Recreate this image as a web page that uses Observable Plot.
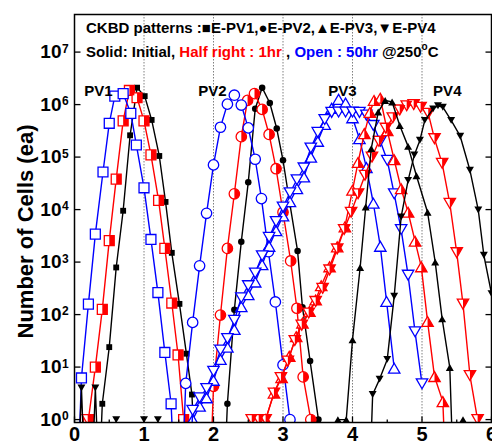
<!DOCTYPE html>
<html>
<head>
<meta charset="utf-8">
<script src="https://cdn.jsdelivr.net/npm/d3@7"></script>
<script src="https://cdn.jsdelivr.net/npm/@observablehq/plot@0.6"></script>
<style>
  html, body { margin: 0; padding: 0; background: #fff; }
  #chart svg { display: block; }
</style>
</head>
<body>
<div id="chart"></div>
<script>
// ---------- ticks ----------
const xTickValues = [0, 1, 2, 3, 4, 5, 6];
const xMinorTickValues = [0.5, 1.5, 2.5, 3.5, 4.5, 5.5];
const xGridValues = [1, 2, 3, 4, 5];
const yTickValues = [1, 10, 100, 1000, 1e4, 1e5, 1e6, 1e7];
const yTickExponents = ["0", "1", "2", "3", "4", "5", "6", "7"];

// ---------- data (count 0 = empty bin) ----------
// PV1 (squares)
const pv1InitialX = [0.3, 0.4, 0.5, 0.6, 0.7, 0.8, 0.9, 1.01, 1.11, 1.22, 1.31, 1.4, 1.51, 1.61, 1.69, 1.8];
const pv1InitialN = [0, 2, 24, 790, 9500, 2.6e5, 2.1e6, 1.45e6, 5.1e5, 1.05e5, 1.4e4, 1500, 160, 18, 3, 0];
const pv1HalfX = [0.2, 0.3, 0.4, 0.5, 0.6, 0.7, 0.79, 0.9, 1.0, 1.1, 1.21, 1.3, 1.4, 1.49, 1.57, 1.65];
const pv1HalfN = [1, 10, 126, 2570, 3.8e4, 4.9e5, 1.86e6, 1.35e6, 4.9e5, 1.1e5, 1.5e4, 1820, 166, 17, 1, 0];
const pv1OpenX = [0.0, 0.1, 0.2, 0.3, 0.41, 0.5, 0.58, 0.7, 0.81, 0.89, 1.0, 1.1, 1.2, 1.3, 1.39, 1.5];
const pv1OpenN = [0, 6.2, 158, 3400, 5.2e4, 4.4e5, 1.45e6, 1.62e6, 6.8e5, 1.7e5, 2.6e4, 2700, 263, 19, 2, 0];

// PV2 (circles)
const pv2InitialX = [2.1, 2.2, 2.3, 2.4, 2.5, 2.6, 2.7, 2.81, 2.91, 3.0, 3.1, 3.21, 3.28, 3.39, 3.51, 3.6];
const pv2InitialN = [0, 2, 123, 2450, 3.3e4, 8.3e5, 2.1e6, 1.07e6, 3.5e5, 8.7e4, 1.26e4, 1620, 138, 13, 1, 0];
const pv2HalfX = [1.9, 2.0, 2.1, 2.2, 2.3, 2.4, 2.49, 2.59, 2.7, 2.8, 2.9, 3.0, 3.11, 3.2, 3.29, 3.4, 3.5];
const pv2HalfN = [0, 4.3, 98, 1820, 2.0e4, 2.45e5, 1.2e6, 1.62e6, 8.1e5, 2.7e5, 6.0e4, 8900, 1050, 132, 6.5, 1, 0];
const pv2OpenX = [1.5, 1.6, 1.7, 1.8, 1.9, 2.0, 2.1, 2.2, 2.3, 2.4, 2.5, 2.6, 2.69, 2.79, 2.89, 3.0, 3.1, 3.2];
const pv2OpenN = [0, 4.9, 71, 850, 8500, 7.1e4, 3.7e5, 1.02e6, 1.51e6, 9.8e5, 3.6e5, 9.1e4, 1.62e4, 1580, 174, 11, 1, 0];

// PV3 (triangles up)
const pv3InitialX = [3.7, 3.79, 3.91, 4.0, 4.11, 4.19, 4.27, 4.37, 4.47, 4.57, 4.68, 4.8, 4.92, 5.08, 5.19, 5.29, 5.4, 5.5, 5.59, 5.7];
const pv3InitialN = [0, 1, 1, 33, 790, 1.12e4, 1.45e5, 7.2e5, 1.2e6, 1.12e6, 4.0e5, 1.6e5, 4.4e4, 8900, 1000, 83, 9.8, 0, 1, 0];
const pv3HalfX = [2.65, 2.75, 2.87, 2.98, 3.09, 3.19, 3.28, 3.38, 3.47, 3.55, 3.67, 3.78, 3.89, 4.0, 4.08, 4.17, 4.25, 4.31, 4.4, 4.5, 4.6, 4.7, 4.8, 4.9, 4.99, 5.08, 5.18, 5.3, 5.4];
const pv3HalfN = [0, 1, 3.2, 6.3, 16, 38, 69, 115, 190, 355, 813, 1950, 4680, 2.34e4, 7.9e4, 2.8e5, 7.1e5, 1.2e6, 1.32e6, 3.2e5, 8.9e4, 2.5e4, 8900, 2500, 813, 74, 6.6, 2.2, 0];
const pv3OpenX = [1.6, 1.7, 1.8, 1.9, 2.0, 2.1, 2.2, 2.3, 2.4, 2.5, 2.6, 2.7, 2.8, 2.9, 3.0, 3.1, 3.2, 3.3, 3.4, 3.5, 3.6, 3.7, 3.8, 3.9, 4.0, 4.1, 4.2, 4.3, 4.4, 4.49, 4.6];
const pv3OpenN = [0, 1, 1.8, 2.6, 5.6, 14, 24, 52, 141, 240, 417, 891, 2000, 3980, 7590, 1.41e4, 2.5e4, 4.2e4, 1.0e5, 2.0e5, 4.2e5, 8.5e5, 1.26e6, 1.07e6, 5.6e5, 2.24e5, 6.3e4, 1.32e4, 2000, 178, 9.5];

// PV4 (triangles down)
const pv4InitialX = [0.0, 0.1, 0.2, 0.3, 0.4, 0.5, 0.6, 0.7, 0.9, 1.0, 1.1, 1.2, 1.3, 4.2, 4.29, 4.39, 4.5, 4.6, 4.7, 4.8, 4.89, 4.97, 5.04, 5.16, 5.23, 5.3, 5.42, 5.55, 5.69, 5.81, 5.89, 6.0];
const pv4InitialN = [0, 4, 0, 4, 0, 0, 1, 0, 0, 1, 0, 1, 0, 0, 3, 5.9, 14, 224, 7240, 3.6e4, 1.1e5, 2.1e5, 5.0e5, 8.3e5, 9.5e5, 8.9e5, 5.0e5, 2.5e5, 5.6e4, 9800, 1350, 250];
const pv4HalfX = [0.1, 0.19, 0.3, 2.45, 2.55, 2.65, 2.75, 2.87, 2.97, 3.07, 3.17, 3.27, 3.37, 3.47, 3.57, 3.67, 3.78, 3.88, 3.98, 4.08, 4.18, 4.28, 4.38, 4.48, 4.58, 4.68, 4.78, 4.88, 4.98, 5.09, 5.18, 5.29, 5.4, 5.5, 5.59, 5.69, 5.8, 5.9];
const pv4HalfN = [0, 1, 0, 0, 1, 1, 1, 3.2, 6.3, 13, 32, 63, 107, 178, 316, 708, 1780, 4170, 8900, 2.0e4, 4.5e4, 1.0e5, 2.0e5, 3.55e5, 5.6e5, 7.9e5, 9.5e5, 1.0e6, 8.9e5, 6.8e5, 2.24e5, 7.6e4, 1.32e4, 1510, 158, 6.9, 1, 0];
const pv4OpenX = [1.6, 1.7, 1.8, 1.9, 2.0, 2.1, 2.2, 2.3, 2.4, 2.5, 2.6, 2.7, 2.8, 2.9, 3.0, 3.1, 3.2, 3.3, 3.4, 3.5, 3.6, 3.7, 3.8, 3.9, 4.0, 4.1, 4.2, 4.3, 4.4, 4.5, 4.6, 4.7, 4.8, 4.9, 5.0];
const pv4OpenN = [0, 1.5, 2.6, 3.9, 8.3, 21, 35, 78, 209, 355, 617, 1320, 2950, 5900, 1.12e4, 2.09e4, 3.7e4, 6.2e4, 1.48e5, 2.95e5, 5.2e5, 7.1e5, 7.2e5, 7.2e5, 7.2e5, 7.1e5, 6.3e5, 4.0e5, 2.0e5, 8.7e4, 2.0e4, 4170, 562, 47, 4.8];

// annotations
const pvLabelText = ["PV1", "PV2", "PV3", "PV4"];
const pvLabelX = [0.14, 1.78, 3.65, 5.16];
const pvLabelY = [1.8e6, 1.8e6, 1.8e6, 1.8e6];
const headerLine1 = "CKBD patterns :\u25A0E-PV1,\u25CFE-PV2,\u25B2E-PV3,\u25BCE-PV4";
const headerLine2 = [
  {text: "Solid: Initial, ", cond: "initial"},
  {text: "Half right : 1hr", cond: "half"},
  {text: " , ", cond: "initial"},
  {text: "Open : 50hr", cond: "open"},
  {text: " @250", cond: "initial"}
];
const yLabel = "Number of Cells (ea)";

// ---------- styling ----------
const FONT = "'Liberation Sans', Arial, Helvetica, sans-serif";
const COLOR = {initial: "#000000", half: "#ff0000", open: "#0000ff"};
const EMPTY = 1e-3; // empty bins drop off the log axis

function sq(half) {
  return {draw(ctx, size) {
    const k = Math.sqrt(size) / 2, l = half ? 0 : -k;
    ctx.moveTo(l, -k); ctx.lineTo(k, -k); ctx.lineTo(k, k); ctx.lineTo(l, k); ctx.closePath();
  }};
}
function circ(half) {
  return {draw(ctx, size) {
    const r = Math.sqrt(size) / 2 * 1.05;
    if (half) { ctx.moveTo(0, -r); ctx.arc(0, 0, r, -Math.PI / 2, Math.PI / 2); ctx.closePath(); }
    else { ctx.moveTo(r, 0); ctx.arc(0, 0, r, 0, 2 * Math.PI); ctx.closePath(); }
  }};
}
function tri(up, half) {
  return {draw(ctx, size) {
    const k = Math.sqrt(size) / 2, s = up ? 1 : -1, w = 1.15 * k;
    ctx.moveTo(0, -k * s); ctx.lineTo(w, k * s); ctx.lineTo(half ? 0 : -w, k * s); ctx.closePath();
  }};
}
const SHAPE = {PV1: sq(false), PV2: circ(false), PV3: tri(true, false), PV4: tri(false, false)};
const HALF = {PV1: sq(true), PV2: circ(true), PV3: tri(true, true), PV4: tri(false, true)};
const SOLID_R = {PV1: 3.3, PV2: 3.5, PV3: 3.9, PV4: 3.9};
const OPEN_R = 5.6;

const series = [
  {pattern: "PV1", cond: "initial", x: pv1InitialX, n: pv1InitialN},
  {pattern: "PV1", cond: "half", x: pv1HalfX, n: pv1HalfN},
  {pattern: "PV1", cond: "open", x: pv1OpenX, n: pv1OpenN},
  {pattern: "PV2", cond: "initial", x: pv2InitialX, n: pv2InitialN},
  {pattern: "PV2", cond: "half", x: pv2HalfX, n: pv2HalfN},
  {pattern: "PV2", cond: "open", x: pv2OpenX, n: pv2OpenN},
  {pattern: "PV3", cond: "open", x: pv3OpenX, n: pv3OpenN},
  {pattern: "PV4", cond: "open", x: pv4OpenX, n: pv4OpenN},
  {pattern: "PV3", cond: "half", x: pv3HalfX, n: pv3HalfN},
  {pattern: "PV4", cond: "half", x: pv4HalfX, n: pv4HalfN},
  {pattern: "PV3", cond: "initial", x: pv3InitialX, n: pv3InitialN},
  {pattern: "PV4", cond: "initial", x: pv4InitialX, n: pv4InitialN}
];

function seriesMarks(s) {
  const rows = s.x.map((x, i) => ({x, n: s.n[i], y: s.n[i] > 0 ? s.n[i] : EMPTY}));
  const shown = rows.filter(r => r.n > 0);
  const color = COLOR[s.cond];
  const marks = [Plot.line(rows, {x: "x", y: "y", stroke: color, strokeWidth: 1.4, clip: true})];
  if (s.cond === "initial") {
    marks.push(Plot.dot(shown, {x: "x", y: "y", symbol: SHAPE[s.pattern], r: SOLID_R[s.pattern], fill: color, stroke: "none", clip: true}));
  } else {
    marks.push(Plot.dot(shown, {x: "x", y: "y", symbol: SHAPE[s.pattern], r: OPEN_R, fill: "#fff", stroke: color, strokeWidth: 1.3, clip: true}));
    if (s.cond === "half") {
      marks.push(Plot.dot(shown, {x: "x", y: "y", symbol: HALF[s.pattern], r: OPEN_R, fill: color, stroke: "none", clip: true}));
    }
  }
  return marks;
}

const tickIn = (dx, dy) => ({draw(ctx) { ctx.moveTo(0, 0); ctx.lineTo(dx, dy); }});

const chart = Plot.plot({
  width: 492,
  height: 444,
  marginLeft: 74,
  marginRight: 1,
  marginTop: 14,
  marginBottom: 22,
  style: {fontFamily: FONT, fontWeight: "bold", background: "#fff", color: "#000"},
  x: {domain: [0, 6]},
  y: {type: "log", domain: [0.88, 5.2e7]},
  marks: [
    Plot.ruleX(xGridValues, {stroke: "#808080", strokeWidth: 1, strokeDasharray: "1.5,1.5"}),
    ...series.flatMap(seriesMarks),
    Plot.frame({stroke: "#000", strokeWidth: 1.5}),
    Plot.dot(yTickValues, {y: d => d, frameAnchor: "left", symbol: tickIn(6, 0), stroke: "#000", fill: "none", strokeWidth: 1.3}),
    Plot.dot(yTickValues, {y: d => d, frameAnchor: "right", symbol: tickIn(-6, 0), stroke: "#000", fill: "none", strokeWidth: 1.3}),
    Plot.dot(xTickValues, {x: d => d, frameAnchor: "bottom", symbol: tickIn(0, -6), stroke: "#000", fill: "none", strokeWidth: 1.3}),
    Plot.dot(xMinorTickValues, {x: d => d, frameAnchor: "bottom", symbol: tickIn(0, -3), stroke: "#000", fill: "none", strokeWidth: 1.3}),
    Plot.axisX(xTickValues, {tickSize: 0, tickPadding: 4, fontSize: 20, tickFormat: d => String(d), label: null}),
    Plot.axisY(yTickValues, {tickSize: 0, tickPadding: 13, fontSize: 19, tickFormat: () => "10", label: null}),
    Plot.text(yTickValues, {y: d => d, text: (d, i) => yTickExponents[i], frameAnchor: "left", dx: -12.5, dy: -3, textAnchor: "start", fontSize: 12}),
    Plot.text([yLabel], {text: d => d, frameAnchor: "left", textAnchor: "middle", rotate: -90, dx: -49, dy: 13, fontSize: 22}),
    Plot.text(pvLabelText, {x: (d, i) => pvLabelX[i], y: (d, i) => pvLabelY[i], text: d => d, textAnchor: "start", fontSize: 15})
  ]
});

document.getElementById("chart").appendChild(chart);

// header lines (mixed colours) inside the plot frame
const svg = d3.select(chart);
const hdr = svg.append("g").attr("font-family", FONT).attr("font-weight", "bold").attr("font-size", 15)
  .attr("fill", "#000").attr("text-anchor", "start");
hdr.append("text").attr("x", 86).attr("y", 33).text(headerLine1);
const l2 = hdr.append("text").attr("x", 86).attr("y", 57);
headerLine2.forEach(seg => l2.append("tspan").attr("fill", COLOR[seg.cond]).text(seg.text));
l2.append("tspan").attr("font-size", 10).attr("dy", -7).text("o");
l2.append("tspan").attr("dy", 7).text("C");
</script>
</body>
</html>
